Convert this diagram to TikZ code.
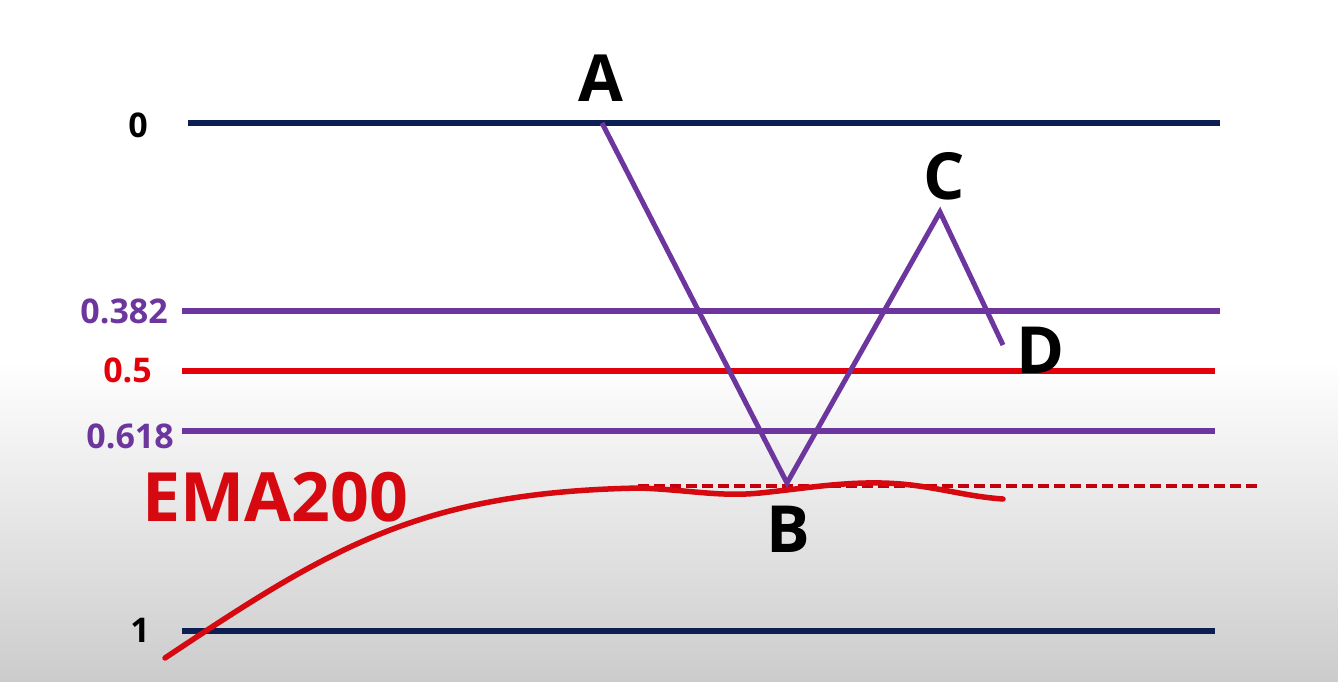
\documentclass[tikz,border=0pt]{standalone}
\usepackage{fontspec}
\setmainfont{Open Sans}

\definecolor{navyline}{RGB}{12,30,82}
\definecolor{fibpurple}{RGB}{108,54,158}
\definecolor{fibred}{RGB}{228,0,10}
\definecolor{emared}{RGB}{214,8,16}
\definecolor{dashred}{RGB}{196,0,12}

\begin{document}
\begin{tikzpicture}[x=1pt,y=-1pt,
    level/.style={line width=6pt},
    levellabel/.style={anchor=east,inner sep=0pt,font=\bfseries\fontsize{34}{34}\selectfont},
    pointlabel/.style={inner sep=0pt,font=\bfseries\fontsize{65}{65}\selectfont}]
  \useasboundingbox (0,0) rectangle (1338,681);
  % background
  \fill[white] (0,0) rectangle (1338,360);
  \shade[top color=white,bottom color=black!20] (0,360) rectangle (1338,681);

  % fibonacci levels
  \coordinate (l0w) at (188,123);   \coordinate (l0e) at (1220,123);
  \coordinate (l382w) at (182,311); \coordinate (l382e) at (1220,311);
  \coordinate (l5w) at (182,371);   \coordinate (l5e) at (1215,371);
  \coordinate (l618w) at (182,431); \coordinate (l618e) at (1215,431);
  \coordinate (l1w) at (182,631);   \coordinate (l1e) at (1215,631);
  \draw[level,navyline] (l0w) -- (l0e);
  \draw[level,fibpurple] (l382w) -- (l382e);
  \draw[level,fibred] (l5w) -- (l5e);
  \draw[level,fibpurple] (l618w) -- (l618e);
  \draw[level,navyline] (l1w) -- (l1e);

  \node[levellabel,black] (t0) at (148,125) {0};
  \node[levellabel,fibpurple] (t382) at (168,311) {0.382};
  \node[levellabel,fibred] (t5) at (152,370) {0.5};
  \node[levellabel,fibpurple] (t618) at (174,436) {0.618};
  \node[levellabel,black] (t1) at (150,630) {1};

  % EMA200
  \coordinate (dashw) at (638,486); \coordinate (dashe) at (1262,486);
  \draw[dashred,line width=4pt,dash pattern=on 11pt off 5pt] (dashw) -- (dashe);
  \draw[emared,line width=5.5pt,line cap=round]
    (165,658) .. controls (330,548) and (420,492) .. (640,488)
    .. controls (690,490) and (720,497) .. (760,493)
    .. controls (800,489) and (840,482) .. (882,483)
    .. controls (930,484) and (960,496) .. (1003,499);
  \node[inner sep=0pt,emared,font=\bfseries\fontsize{68}{68}\selectfont] (ema) at (275,497) {EMA200};

  % ABCD swing
  \coordinate (pA) at (602,123);
  \coordinate (pB) at (787,483);
  \coordinate (pC) at (940,212);
  \coordinate (pD) at (1003,345);
  \draw[fibpurple,line width=5pt,line join=miter] (pA) -- (pB) -- (pC) -- (pD);

  \node[pointlabel] (A) at (601,78) {A};
  \node[pointlabel] (B) at (788,529) {B};
  \node[pointlabel] (C) at (944,176) {C};
  \node[pointlabel] (D) at (1041,350) {D};
\end{tikzpicture}
\end{document}
